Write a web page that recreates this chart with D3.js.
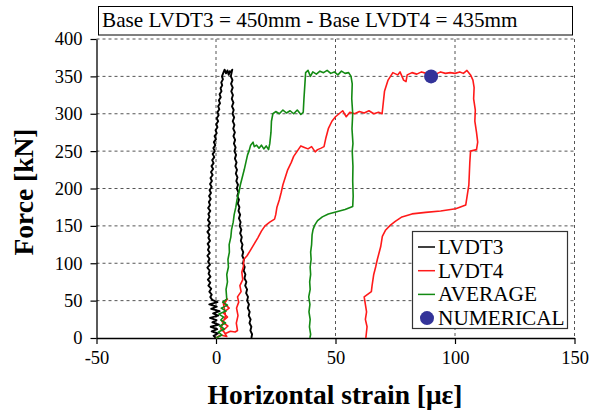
<!DOCTYPE html>
<html><head><meta charset="utf-8">
<script src="https://cdn.jsdelivr.net/npm/d3@7"></script>
<style>body{margin:0;background:#fff}svg{display:block}</style>
</head><body><svg id="c" width="598" height="412" font-family="'Liberation Serif', 'Times New Roman', serif"></svg>
<script>
const FONT = "'Liberation Serif', 'Times New Roman', serif";
const titleText = "Base LVDT3 = 450mm - Base LVDT4 = 435mm";
const xTicks = [-50, 0, 50, 100, 150];
const yTicks = [0, 50, 100, 150, 200, 250, 300, 350, 400];
const seriesNames = ["LVDT3", "LVDT4", "AVERAGE", "NUMERICAL"];
const seriesColors = ["#000000", "#ff1a1a", "#138a13", "#333399"];

// [strain (µε), force (kN)]
const lvdt3 = [[0,0],[-1,3],[0.8,6],[-1.8,9],[0.5,12],[-2.2,15],[1.2,18],[-1.5,21],[0.2,24],[-2.5,27],[0.9,30],[-1.2,33],[1.5,36],[-2,39],[0.3,42],[-2.8,45],[0.6,48],[-1.6,51],[-2.4,55],
[-1.8,58],[-2.8,62],[-2,66],[-3.2,70],[-2.4,74],[-3.4,78],[-2.3,82],[-3.1,86],[-2.6,90],[-3.6,94],[-2.5,98],[-3.3,102],[-2.7,106],[-3.6,110],[-2.6,114],[-3.4,118],[-2.8,122],[-3.5,126],[-2.5,130],[-3.2,134],[-2.7,138],[-3.6,142],[-2.6,146],[-3.3,150],[-2.5,154],[-3.4,158],[-2.7,162],[-3.2,166],[-2.4,170],[-3.3,174],[-2.5,178],[-3,182],[-2.2,186],[-2.9,190],[-2.1,194],[-2.7,198],[-1.8,202],[-2.5,206],[-1.7,210],[-2.3,214],[-1.4,218],[-2.1,222],[-1.2,226],[-1.9,230],[-1,234],[-1.6,238],[-0.7,242],[-1.4,246],[-0.5,250],[-1.1,254],[-0.3,258],[-0.9,262],[0,266],[-0.6,270],[0.3,274],[-0.2,278],[0.6,282],[0.1,286],[0.9,290],[0.3,294],[1.1,298],[0.6,302],[1.4,306],[0.9,310],[1.7,314],[1.2,318],[2,322],[1.5,326],[2.3,330],[1.9,334],[2.6,338],[2.2,342],[2.9,346],[2.5,350],[3.1,355],[3.6,359],[4.2,354],[4.8,358],[5.3,352],[5.8,357],[6.4,355],[6.8,359],[6.2,350],
[6.9,345],[6.3,340],[7,335],[6.4,330],[7.1,325],[6.6,320],[7.3,315],[6.7,310],[7.4,305],[6.9,300],[7.6,295],[7,290],[7.7,285],[7.2,280],[7.9,275],[7.3,270],[8,265],[7.5,260],[8.2,255],[7.7,250],[8.4,245],[7.9,240],[8.6,235],[8.1,230],[8.8,225],[8.3,220],[9,215],[8.5,210],[9.2,205],[8.7,200],[9.4,195],[8.9,190],[9.6,185],[9.1,180],[9.8,175],[9.4,170],[10.1,165],[9.6,160],[10.3,155],[9.9,150],[10.6,145],[10.1,140],[10.8,135],[10.4,130],[11.1,125],[10.7,120],[11.4,115],[11,110],[11.7,105],[11.3,100],[12,95],[11.6,90],[12.3,85],[11.9,80],[12.7,75],[12.2,70],[13,65],[12.6,60],[13.4,55],[13,50],[13.8,45],[13.3,40],[14.1,35],[13.7,30],[14.5,25],[14,20],[14.8,15],[14.4,10],[15.1,5],[14.8,0]];

const lvdt4 = [[0,0],[2,4],[4.5,2],[3,10],[5,16],[2.5,22],[4.8,28],[3,34],[5.5,40],[3.5,46],[4.8,52],[3,48],[4,30],[2,12],[4,6],[6,9],[8,8],[9,10],[8.5,20],[9.2,30],[8.6,40],[9.5,48],[9,55],[10.5,62],[10,70],[11.2,78],[10.8,88],[11.5,96],[11.6,105],[13,110],[14.5,118],[16,126],[17.5,134],[19,143],[20.5,150],[22.5,155],[24.5,159],[25,165],[25.5,175],[26.5,185],[27.3,195],[28,205],[29,215],[30,225],[31.5,235],[32.5,243],[34,250],[35.5,257],[37,255],[38.5,253],[40,256],[41.5,249],[42.5,252],[44,254],[45.2,256],[46,268],[47,280],[48.5,290],[50,296],[51.5,300],[53,304],[54.5,296],[56,302],[58,300],[60,303],[62,301],[64,304],[66,300],[68,302],[69.5,300],[70,315],[70.5,330],[72,345],[74,355],[76,352],[77,356],[78.5,345],[79.5,343],[80,352],[82,355],[84,353],[86,356],[88,354],[90,355],[92,353],[94,356],[96,354],[98,355],[100,354],[102,356],[103.5,354],[105,358],[106.5,352],[107.5,345],[108,335],[107.8,320],[108.5,305],[108.3,290],[109,275],[109.5,262],[109,252],[106.5,250],[106.2,235],[106,220],[105.8,205],[104.5,178],[100.3,173],[94,170],[87.7,168],[82,166],[77.8,162],[75,156],[73,151],[71,144.5],[69.6,136],[68.9,122],[67.5,105],[66.8,95],[66,85],[65.3,70],[65,62],[62,55],[62.5,45],[63,35],[62.5,25],[63.2,15],[62.7,0]];

const average = [[0,0],[2.5,4],[1,8],[3.5,12],[1.5,16],[4,20],[2,24],[3.2,28],[1.2,32],[4.2,36],[2.2,40],[4.8,44],[2.8,48],[4.5,52],[4.2,65],[4.8,75],[4.5,85],[5.2,95],[5,105],[5.6,115],[5.5,125],[6.2,135],[6.5,145],[7.2,155],[7.6,165],[8.3,175],[8.8,185],[9.6,195],[10.2,205],[11,215],[11.8,225],[12.5,235],[13.2,245],[13.8,250],[14.5,258],[15.5,262],[16,256],[17,258],[18,254],[19,258],[20,253],[21,257],[22,252],[22.5,260],[23,275],[23.2,290],[23.8,300],[25,303],[26.5,300],[28,305],[29.5,301],[31,304],[32.5,300],[34,305],[35.5,299],[36.5,302],[36.8,320],[37.2,340],[37.5,355],[38.5,358],[39.5,350],[40.5,356],[42,353],[43.5,357],[45,355],[46.5,358],[48,354],[49.5,356],[51,352],[52.5,357],[54,354],[55.5,355],[56.5,350],[57,340],[56.8,320],[57.2,300],[56.9,280],[57.3,260],[57,250],[57.3,230],[57.2,210],[57.4,190],[57.2,176],[54,172],[50.5,169],[47,166],[44.5,162],[42.5,157],[41.3,151],[40.6,145],[40.2,138],[40,125],[39.6,115],[39.8,105],[39.4,95],[39.6,85],[39.2,75],[39.4,65],[38.8,55],[39.3,45],[38.9,35],[39.4,25],[39.1,15],[39.6,5],[39.3,0]];

const numerical = [[90, 350]];

const svg = d3.select("#c");
const m = {l: 96.5, r: 574.5, t: 39, b: 338};
const x = d3.scaleLinear().domain([-50, 150]).range([m.l, m.r]);
const y = d3.scaleLinear().domain([0, 400]).range([m.b, m.t]);

// grid
const g = svg.append("g");
g.selectAll(".hg").data(yTicks.filter(d => d > 0)).join("line")
  .attr("x1", m.l).attr("x2", m.r).attr("y1", d => y(d)).attr("y2", d => y(d))
  .attr("stroke", "#555").attr("stroke-dasharray", "3,3").attr("stroke-width", 1);
g.selectAll(".vg").data(xTicks.filter(d => d > -50)).join("line")
  .attr("x1", d => x(d)).attr("x2", d => x(d)).attr("y1", m.t).attr("y2", m.b)
  .attr("stroke", "#555").attr("stroke-dasharray", "3,3").attr("stroke-width", 1);

// axes
const fmt = d => String(d);
const xa = svg.append("g").attr("transform", `translate(0,${m.b})`)
  .call(d3.axisBottom(x).tickValues(xTicks).tickFormat(fmt).tickSize(6).tickSizeOuter(0));
const ya = svg.append("g").attr("transform", `translate(${m.l},0)`)
  .call(d3.axisLeft(y).tickValues(yTicks).tickFormat(fmt).tickSize(6).tickSizeOuter(0));
[xa, ya].forEach(a => {
  a.attr("font-family", FONT).attr("font-size", 18.5);
  a.select(".domain").attr("stroke", "#000").attr("stroke-width", 1.3);
  a.selectAll(".tick line").attr("stroke", "#000").attr("stroke-width", 1.2);
  a.selectAll("text").attr("fill", "#000");
});
xa.selectAll("text").attr("y", 26).attr("dy", 0);
ya.selectAll("text").attr("x", -14);

// series
const line = d3.line().x(d => x(d[0])).y(d => y(d[1]));
[[lvdt3, 0, 1.9], [lvdt4, 1, 1.6], [average, 2, 1.6]].forEach(([data, i, w]) => {
  svg.append("path").datum(data).attr("d", line).attr("fill", "none")
    .attr("stroke", seriesColors[i]).attr("stroke-width", w).attr("stroke-linejoin", "round");
});
svg.selectAll(".num").data(numerical).join("circle")
  .attr("cx", d => x(d[0])).attr("cy", d => y(d[1])).attr("r", 7).attr("fill", seriesColors[3]);

// title box
svg.append("rect").attr("x", 98.5).attr("y", 6.5).attr("width", 474).attr("height", 28.5)
  .attr("fill", "#fff").attr("stroke", "#000").attr("stroke-width", 1);
svg.append("text").attr("x", 102).attr("y", 27).attr("font-family", FONT).attr("font-size", 21.2).text(titleText);

// legend
const lg = svg.append("g");
lg.append("rect").attr("x", 412.5).attr("y", 231.5).attr("width", 155).attr("height", 97)
  .attr("fill", "#fff").attr("stroke", "#333").attr("stroke-width", 1.2);
seriesNames.forEach((n, i) => {
  const yy = 247 + i * 23.7;
  if (i < 3) {
    lg.append("line").attr("x1", 418).attr("x2", 435).attr("y1", yy).attr("y2", yy)
      .attr("stroke", seriesColors[i]).attr("stroke-width", 1.5);
  } else {
    lg.append("circle").attr("cx", 427).attr("cy", yy).attr("r", 7).attr("fill", seriesColors[i]);
  }
  lg.append("text").attr("x", 438).attr("y", yy + 7).attr("font-family", FONT).attr("font-size", 21.3).text(n);
});

// axis titles
svg.append("text").attr("x", 335).attr("y", 404).attr("text-anchor", "middle")
  .attr("font-family", FONT).attr("font-size", 27.5).attr("font-weight", "bold").text("Horizontal strain [με]");
svg.append("text").attr("transform", "translate(33,192) rotate(-90)").attr("text-anchor", "middle")
  .attr("font-family", FONT).attr("font-size", 27.5).attr("font-weight", "bold").text("Force [kN]");
</script></body></html>
